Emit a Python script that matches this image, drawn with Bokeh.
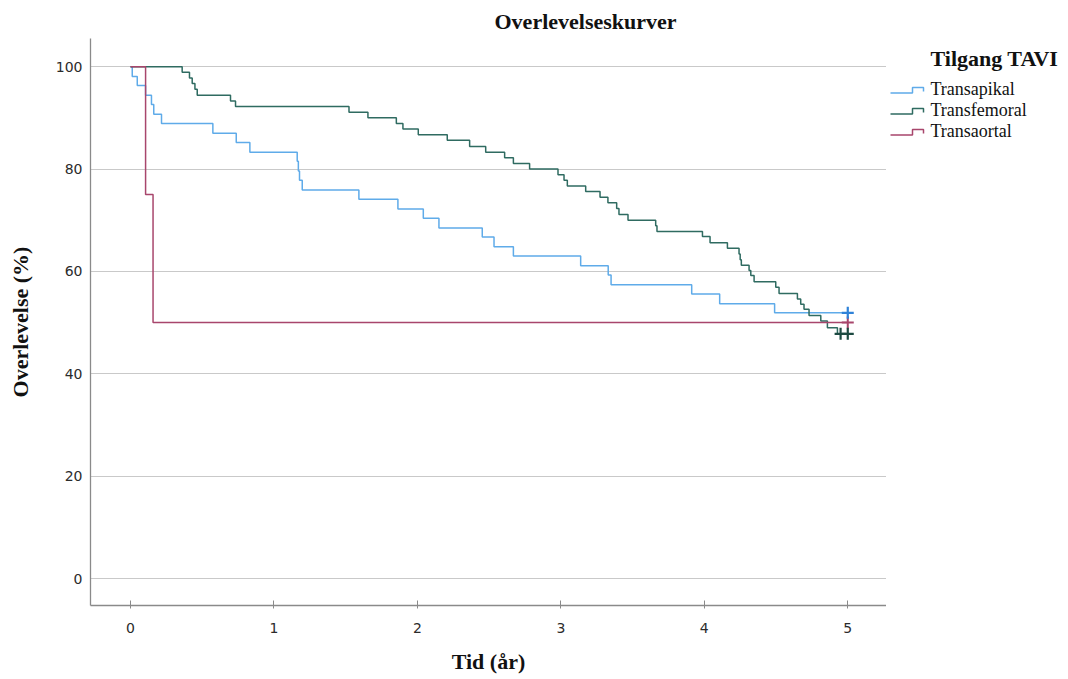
from bokeh.plotting import figure
from bokeh.layouts import row
from bokeh.models import Range1d, Label, FixedTicker, Title
from bokeh.embed import file_html
from bokeh.resources import INLINE

# ---- data ----
groups = ["Transapikal", "Transfemoral", "Transaortal"]

t_api = [0, 0.012, 0.047, 0.105, 0.146, 0.162, 0.216, 0.574, 0.737, 0.832,
         1.162, 1.17, 1.178, 1.197, 1.592, 1.864, 2.041, 2.15, 2.452, 2.534,
         2.669, 3.138, 3.33, 3.35, 3.912, 4.107, 4.49, 5.0]
s_api = [100, 98.1, 96.3, 94.4, 92.6, 90.7, 88.9, 87.0, 85.2, 83.3,
         81.5, 79.6, 77.8, 75.9, 74.1, 72.2, 70.4, 68.5, 66.7, 64.8,
         63.0, 61.1, 59.3, 57.4, 55.6, 53.7, 51.9, 51.9]

t_fem = [0, 0.360, 0.411, 0.430, 0.449, 0.465, 0.697, 0.732, 1.523, 1.655,
         1.853, 1.899, 2.006, 2.208, 2.364, 2.476, 2.608, 2.669, 2.782, 2.98,
         3.022, 3.045, 3.173, 3.273, 3.328, 3.389, 3.405, 3.468, 3.661, 3.67,
         3.987, 4.04, 4.161, 4.242, 4.250, 4.258, 4.312, 4.324, 4.347, 4.498,
         4.521, 4.649, 4.672, 4.695, 4.73, 4.812, 4.858, 4.928, 5.0]
s_fem = [100, 98.9, 97.8, 96.7, 95.6, 94.4, 93.3, 92.2, 91.1, 90.0,
         88.9, 87.8, 86.7, 85.6, 84.4, 83.3, 82.2, 81.1, 80.0, 78.9,
         77.8, 76.7, 75.6, 74.5, 73.4, 72.3, 71.1, 70.0, 68.9, 67.8,
         66.8, 65.6, 64.5, 63.4, 62.3, 61.2, 60.2, 59.2, 58.0, 56.9,
         55.7, 54.6, 53.6, 52.6, 51.4, 50.3, 49.0, 47.8, 47.8]

t_aor = [0, 0.105, 0.157, 5.0]
s_aor = [100, 75.0, 50.0, 50.0]

cens_api_t, cens_api_s = [5.0], [51.9]
cens_fem_t, cens_fem_s = [4.95, 5.0], [47.8, 47.8]
cens_aor_t, cens_aor_s = [5.0], [50.0]

x_ticks = [0, 1, 2, 3, 4, 5]
y_ticks = [0, 20, 40, 60, 80, 100]

title_text = "Overlevelseskurver"
legend_title = "Tilgang TAVI"
x_label = "Tid (år)"
y_label = "Overlevelse (%)"

# ---- styling ----
c_api, c_fem, c_aor = "#5fabe9", "#2f6b61", "#a8466c"
m_api, m_fem, m_aor = "#2f82d8", "#1d4a42", "#a8466c"
line_colors = [c_api, c_fem, c_aor]
serif = "Liberation Serif"
sans = "DejaVu Sans"

W_MAIN, W_LEG, H = 886, 182, 679
B_TOP, B_BOT = 38, 74

p = figure(width=W_MAIN, height=H, output_backend="svg", toolbar_location=None,
           x_range=Range1d(-0.279, 5.27), y_range=Range1d(-5.27, 105.5),
           min_border_left=90, min_border_right=0, min_border_top=B_TOP,
           min_border_bottom=B_BOT)
p.outline_line_color = None
p.background_fill_color = "white"
p.border_fill_color = "white"

p.title = Title(text=title_text, align="left", offset=404, text_font=serif,
                text_font_style="bold", text_font_size="22px",
                text_color="#111111", standoff=10)

p.xgrid.visible = False
p.ygrid.grid_line_color = "#c9c9c9"
p.ygrid.grid_line_width = 1.2

p.xaxis.ticker = FixedTicker(ticks=x_ticks)
p.yaxis.ticker = FixedTicker(ticks=y_ticks)
for ax in (p.xaxis[0], p.yaxis[0]):
    ax.axis_line_color = "#8a8a8a"
    ax.axis_line_width = 1.3
    ax.minor_tick_line_color = None
    ax.major_tick_line_color = "#8a8a8a"
    ax.major_label_text_font = sans
    ax.major_label_text_font_size = "14px"
    ax.major_label_text_color = "#2b2b2b"
    ax.axis_label_text_font = serif
    ax.axis_label_text_font_style = "bold"
    ax.axis_label_text_font_size = "22px"
    ax.axis_label_text_color = "#111111"

p.xaxis.axis_label = x_label
p.xaxis.major_tick_in = 5
p.xaxis.major_tick_out = 3
p.xaxis.major_label_standoff = 14
p.xaxis.axis_label_standoff = 13

p.yaxis.axis_label = y_label
p.yaxis.major_tick_in = 0
p.yaxis.major_tick_out = 0
p.yaxis.major_label_standoff = 8
p.yaxis.axis_label_standoff = 20

p.step(t_api, s_api, mode="after", line_color=c_api, line_width=1.5)
p.step(t_fem, s_fem, mode="after", line_color=c_fem, line_width=1.5)
p.step(t_aor, s_aor, mode="after", line_color=c_aor, line_width=1.5)

p.scatter(cens_aor_t, cens_aor_s, marker="cross", size=12, line_width=2, line_color=m_aor)
p.scatter(cens_api_t, cens_api_s, marker="cross", size=12, line_width=2.2, line_color=m_api)
p.scatter(cens_fem_t, cens_fem_s, marker="cross", size=12, line_width=2.2, line_color=m_fem)

# ---- legend panel: frame aligned with main frame, y = px from page top ----
q = figure(width=W_LEG, height=H, output_backend="svg", toolbar_location=None,
           x_range=Range1d(0, W_LEG), y_range=Range1d(H - B_BOT, B_TOP), title=None,
           min_border_left=0, min_border_right=0, min_border_top=B_TOP,
           min_border_bottom=B_BOT, x_axis_type=None, y_axis_type=None)
q.outline_line_color = None
q.xgrid.visible = False
q.ygrid.visible = False
q.background_fill_color = "white"
q.border_fill_color = "white"

legend_rows = [88, 109, 130]          # row centres (px from top)
icon_dx = [4, 26, 26, 37, 37]         # step-shaped legend icon
icon_dy = [4.5, 4.5, -1, -1, 3]
for name, col, ry in zip(groups, line_colors, legend_rows):
    q.line(icon_dx, [ry + d for d in icon_dy], line_color=col, line_width=1.5)
    q.add_layout(Label(x=44, y=ry, text=name, text_align="left",
                       text_baseline="middle", text_font=serif,
                       text_font_size="18px", text_color="#111111"))

q.add_layout(Label(x=44, y=58, text=legend_title, text_align="left",
                   text_baseline="middle", text_font=serif, text_font_style="bold",
                   text_font_size="22px", text_color="#111111"))

layout = row(p, q, spacing=0)
open("out.html", "w").write(file_html(layout, INLINE))
